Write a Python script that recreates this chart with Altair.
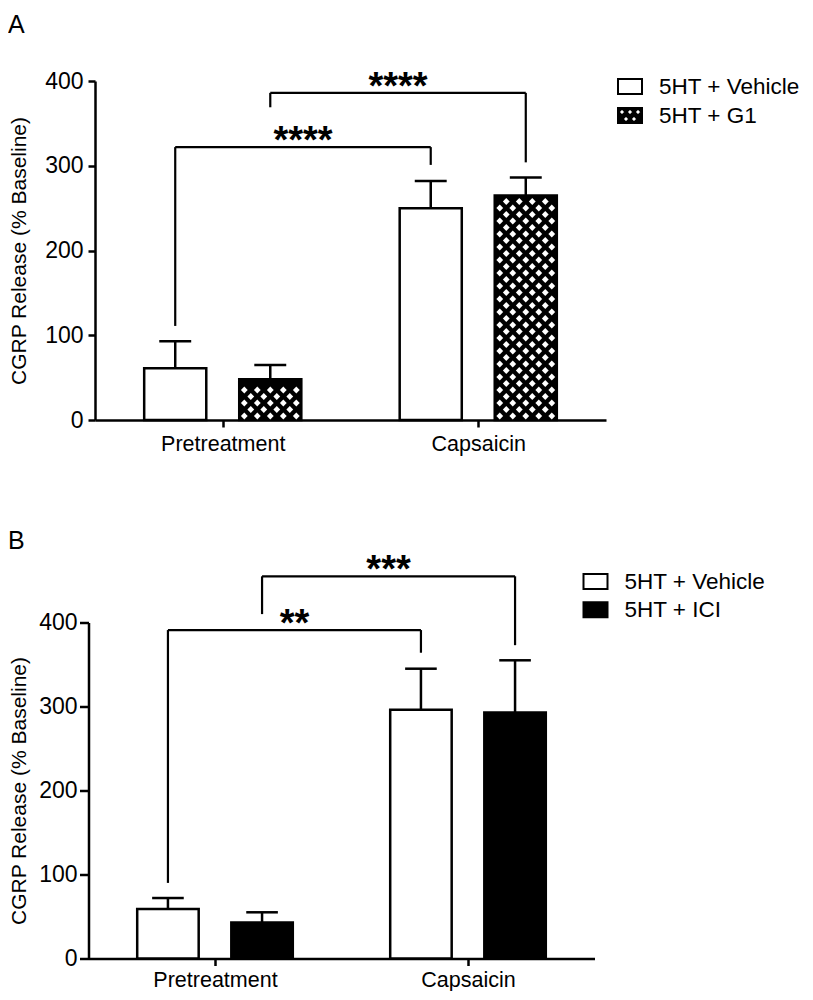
import altair as alt
import pandas as pd

# ---------------- data ----------------
categories = ["Pretreatment", "Capsaicin"]
y_ticks = [0, 100, 200, 300, 400]
y_title = "CGRP Release (% Baseline)"

# Panel A
a_groups = ["5HT + Vehicle", "5HT + G1"]
a_vehicle_mean = [61, 250]
a_vehicle_sem_top = [93, 282]
a_g1_mean = [48, 265]
a_g1_sem_top = [65, 286]
a_sig_text = ["****", "****"]
a_sig_group = [0, 1]
a_sig_height = [322, 386]
a_sig_left_end = [111, 369]
a_sig_right_end = [301, 304]

# Panel B
b_groups = ["5HT + Vehicle", "5HT + ICI"]
b_vehicle_mean = [59, 296]
b_vehicle_sem_top = [72, 345]
b_ici_mean = [43, 293]
b_ici_sem_top = [55, 355]
b_sig_text = ["**", "***"]
b_sig_group = [0, 1]
b_sig_height = [391, 455]
b_sig_left_end = [90, 410]
b_sig_right_end = [364, 373]

# ---------------- geometry / style ----------------
FONT = "Liberation Sans"
GROUP_OFFSET = 0.372
BAR_HALF = 0.243
CAP_HALF = 0.125


def x_center(ci, gi):
    return 2 * ci + 1 + (2 * gi - 1) * GROUP_OFFSET


def bar_table(groups, means, tops):
    rows = []
    for gi, g in enumerate(groups):
        for ci, c in enumerate(categories):
            xc = x_center(ci, gi)
            rows.append(dict(category=c, group=g, gi=gi, xc=xc,
                             x0=xc - BAR_HALF, x1=xc + BAR_HALF,
                             cl=xc - CAP_HALF, cr=xc + CAP_HALF,
                             zero=0, mean=means[gi][ci], top=tops[gi][ci]))
    return pd.DataFrame(rows)


def pattern_table(bars, gi, width, height):
    # white diamond texture inside the hatched bars
    ppx = width / 4.0
    ppy = height / 400.0
    rows = []
    for _, b in bars[bars.gi == gi].iterrows():
        h = b["mean"] * ppy
        half = BAR_HALF * ppx
        r = 0
        yc = 4.0
        while yc + 3.5 <= h - 1.5:
            offs = [-26, -13, 0, 13, 26] if r % 2 == 0 else [-19.5, -6.5, 6.5, 19.5]
            for o in offs:
                if abs(o) + 3.5 <= half - 1.5:
                    rows.append(dict(px=b["xc"] + o / ppx, py=yc / ppy))
            r += 1
            yc += 6.5
    return pd.DataFrame(rows)


def sig_tables(texts, gidx, heights, lefts, rights):
    hrows, legs = [], []
    for t, gi, h, le, ri in zip(texts, gidx, heights, lefts, rights):
        xl, xr = x_center(0, gi), x_center(1, gi)
        hrows.append(dict(xl=xl, xr=xr, xm=(xl + xr) / 2, h=h, text=t))
        legs.append(dict(x=xl, y=le, y2=h))
        legs.append(dict(x=xr, y=ri, y2=h))
    return pd.DataFrame(hrows), pd.DataFrame(legs)


def hole_path():
    r = 0.292
    pts = [(-0.667, -0.292), (0.0, -0.292), (0.667, -0.292), (-0.333, 0.292), (0.333, 0.292)]
    p = "M-1,-0.625L1,-0.625L1,0.625L-1,0.625Z"
    for x, y in pts:
        p += f"M{x - r:.3f},{y:.3f}L{x:.3f},{y + r:.3f}L{x + r:.3f},{y:.3f}L{x:.3f},{y - r:.3f}Z"
    return p


RECT_PATH = "M-1,-0.625L1,-0.625L1,0.625L-1,0.625Z"


def panel(letter, groups, fills, bars, pattern, sigh, sigl, W, H, ax, leg, ttl):
    xscale = alt.Scale(domain=[0, 4], range=[-ax["shift"], W - ax["shift"]], nice=False, zero=False)
    yscale = alt.Scale(domain=[0, 400], nice=False, zero=True)
    label_expr = "[" + ",".join(f"'{c}'" for c in categories) + "][(datum.value - 1) / 2]"
    xaxis = alt.Axis(values=[1, 3], labelExpr=label_expr, title=None, grid=False,
                     domainColor="black", domainWidth=2.5, tickColor="black", tickWidth=2.5,
                     tickSize=7, labelFont=FONT, labelFontSize=21.5, labelColor="black",
                     labelPadding=ax["xlabpad"], labelFlush=False)
    yaxis = alt.Axis(values=y_ticks, title=y_title, grid=False, offset=ax["shift"],
                     domainColor="black", domainWidth=2.5, tickColor="black", tickWidth=2.5,
                     tickSize=ax["ytick"], labelPadding=ax["ylabpad"], labelFont=FONT,
                     labelFontSize=23, labelColor="black", titleFont=FONT, titleFontSize=21,
                     titleFontWeight="normal", titleColor="black", titlePadding=ax["ytitlepad"])

    legend = alt.Legend(orient="none", legendX=leg["x"], legendY=leg["y"], title=None,
                        symbolType=leg["symbol"], symbolSize=576, symbolStrokeColor="black",
                        symbolStrokeWidth=2, labelFont=FONT, labelFontSize=22.5,
                        labelColor="black", labelOffset=16, rowPadding=leg["rowpad"],
                        padding=0, labelLimit=400)

    X = lambda f: alt.X(f, scale=xscale, title=None)
    Y = lambda f: alt.Y(f, scale=yscale, title=y_title)

    bars_l = alt.Chart(bars).mark_rect(stroke="black", strokeWidth=2.5).encode(
        x=alt.X("x0:Q", scale=xscale, axis=xaxis, title=None), x2="x1:Q",
        y=alt.Y("mean:Q", scale=yscale, axis=yaxis, title=y_title), y2="zero:Q",
        fill=alt.Fill("group:N", scale=alt.Scale(domain=groups, range=fills), legend=legend),
    )
    layers = [bars_l]
    if pattern is not None:
        layers.append(alt.Chart(pattern).mark_point(shape="diamond", filled=True, color="white",
                                                    size=46, opacity=1, strokeWidth=0).encode(
            x=X("px:Q"), y=Y("py:Q")))
    layers.append(alt.Chart(bars).mark_rule(color="black", strokeWidth=2.5).encode(
        x=X("xc:Q"), y=Y("mean:Q"), y2="top:Q"))
    layers.append(alt.Chart(bars).mark_rule(color="black", strokeWidth=2.5).encode(
        x=X("cl:Q"), x2="cr:Q", y=Y("top:Q")))
    layers.append(alt.Chart(sigl).mark_rule(color="black", strokeWidth=2.2).encode(
        x=X("x:Q"), y=Y("y:Q"), y2="y2:Q"))
    layers.append(alt.Chart(sigh).mark_rule(color="black", strokeWidth=2.2).encode(
        x=X("xl:Q"), x2="xr:Q", y=Y("h:Q")))
    layers.append(alt.Chart(sigh).mark_text(font=FONT, fontSize=38, fontWeight="bold",
                                            baseline="alphabetic", align="center", dy=6,
                                            color="black").encode(
        x=X("xm:Q"), y=Y("h:Q"), text="text:N"))

    return alt.layer(*layers).properties(
        width=W, height=H,
        title=alt.TitleParams(text=letter, anchor="start", frame="group", dx=ttl["dx"],
                              offset=ttl["offset"], font=FONT, fontSize=25,
                              fontWeight="normal", color="black"),
    )


# ---------------- panel A ----------------
WA, HA = 511, 339
bars_a = bar_table(a_groups, [a_vehicle_mean, a_g1_mean], [a_vehicle_sem_top, a_g1_sem_top])
pat_a = pattern_table(bars_a, 1, WA, HA)
sigh_a, sigl_a = sig_tables(a_sig_text, a_sig_group, a_sig_height, a_sig_left_end, a_sig_right_end)
chart_a = panel("A", a_groups, ["white", "black"], bars_a, pat_a, sigh_a, sigl_a, WA, HA,
                ax=dict(shift=0, xlabpad=6, ytick=7, ylabpad=5, ytitlepad=15.5),
                leg=dict(x=522, y=-7.5, rowpad=4,
                         symbol=alt.ExprRef(expr=f"datum.value === '{a_groups[1]}' ? '{hole_path()}' : '{RECT_PATH}'")),
                ttl=dict(dx=-87, offset=31))

# ---------------- panel B ----------------
WB, HB = 506, 336
bars_b = bar_table(b_groups, [b_vehicle_mean, b_ici_mean], [b_vehicle_sem_top, b_ici_sem_top])
sigh_b, sigl_b = sig_tables(b_sig_text, b_sig_group, b_sig_height, b_sig_left_end, b_sig_right_end)
chart_b = panel("B", b_groups, ["white", "black"], bars_b, None, sigh_b, sigl_b, WB, HB,
                ax=dict(shift=6.5, xlabpad=4, ytick=9, ylabpad=2.5, ytitlepad=9.6),
                leg=dict(x=487.5, y=-54, rowpad=3.2, symbol=RECT_PATH),
                ttl=dict(dx=-87, offset=-1.5))

chart = alt.concat(chart_a, chart_b, columns=1, spacing=73.5, bounds="full").resolve_scale(
    fill="independent"
).resolve_legend(fill="independent").properties(
    padding={"top": 4, "left": 0, "right": 0, "bottom": 0}
).configure(font=FONT).configure_view(stroke=None)

chart.save("out.html", embed_options={"renderer": "svg", "actions": False})
